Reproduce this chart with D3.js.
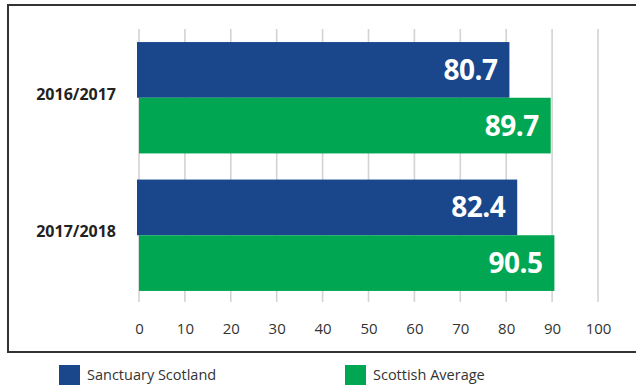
<!DOCTYPE html>
<html><head><meta charset="utf-8">
<script src="https://cdn.jsdelivr.net/npm/d3@7"></script>
<style>body{margin:0;background:#fff}svg{display:block}</style>
</head><body>
<script>
const categories = ["2016/2017", "2017/2018"];
const seriesNames = ["Sanctuary Scotland", "Scottish Average"];
const sanctuary = [80.7, 82.4];
const scottishAvg = [89.7, 90.5];
const ticks = [0, 10, 20, 30, 40, 50, 60, 70, 80, 90, 100];
const colors = ["#1a468c", "#00a651"];

const W = 636, H = 385;
const svg = d3.select("body").append("svg").attr("width", W).attr("height", H);
const font = "'Open Sans', 'DejaVu Sans', sans-serif";

// frame
svg.append("rect").attr("x", 8).attr("y", 5).attr("width", 640).attr("height", 347)
  .attr("fill", "none").attr("stroke", "#333").attr("stroke-width", 2);

const x = d3.scaleLinear().domain([0, 100]).range([139, 598]);
const y0 = d3.scaleBand().domain(categories).range([29, 304]).paddingInner(0.19).paddingOuter(0.095);
const y1 = d3.scaleBand().domain(seriesNames).range([0, y0.bandwidth()]);

// grid
svg.append("g").selectAll("line").data(ticks).join("line")
  .attr("x1", d => x(d)).attr("x2", d => x(d))
  .attr("y1", 29).attr("y2", 302)
  .attr("stroke", "#d3d3d3").attr("stroke-width", 1.6);

const rows = categories.map((c, i) => ({cat: c, vals: [sanctuary[i], scottishAvg[i]]}));

const g = svg.append("g").selectAll("g").data(rows).join("g")
  .attr("transform", d => `translate(0,${y0(d.cat)})`);

g.selectAll("rect").data(d => d.vals.map((v, j) => ({v, j}))).join("rect")
  .attr("x", d => x(0) - (d.j === 0 ? 2 : 0))
  .attr("y", d => y1(seriesNames[d.j]))
  .attr("width", d => x(d.v) - x(0) + (d.j === 0 ? 2 : 0))
  .attr("height", y1.bandwidth())
  .attr("fill", d => colors[d.j]);

g.selectAll("text.val").data(d => d.vals.map((v, j) => ({v, j}))).join("text")
  .attr("class", "val")
  .attr("x", d => x(d.v) - 12)
  .attr("y", d => y1(seriesNames[d.j]) + y1.bandwidth() / 2 + 10)
  .attr("text-anchor", "end")
  .attr("fill", "#fff")
  .attr("font-family", font).attr("font-weight", 700).attr("font-size", 28)
  .attr("letter-spacing", -0.5)
  .text(d => d.v.toFixed(1));

// category labels
svg.append("g").selectAll("text").data(categories).join("text")
  .attr("x", 116).attr("y", d => y0(d) + y0.bandwidth() / 2 + 2)
  .attr("text-anchor", "end")
  .attr("fill", "#222")
  .attr("font-family", font).attr("font-weight", 700).attr("font-size", 16)
  .text(d => d);

// x axis labels
const axis = d3.axisBottom(x).tickValues(ticks).tickSize(0).tickPadding(0);
const ax = svg.append("g").attr("transform", "translate(0,323)").call(axis);
ax.select(".domain").remove();
ax.selectAll("text").attr("fill", "#333").attr("font-family", font)
  .attr("font-size", 15).attr("dy", "0.71em");

// legend
const legendX = [59, 345];
const leg = svg.append("g").selectAll("g").data(seriesNames).join("g")
  .attr("transform", (d, i) => `translate(${legendX[i]},365)`);
leg.append("rect").attr("width", 21).attr("height", 20).attr("fill", (d, i) => colors[i]);
leg.append("text").attr("x", 28).attr("y", 15)
  .attr("fill", "#333").attr("font-family", font).attr("font-size", 14.5)
  .text(d => d);
</script>
</body></html>
